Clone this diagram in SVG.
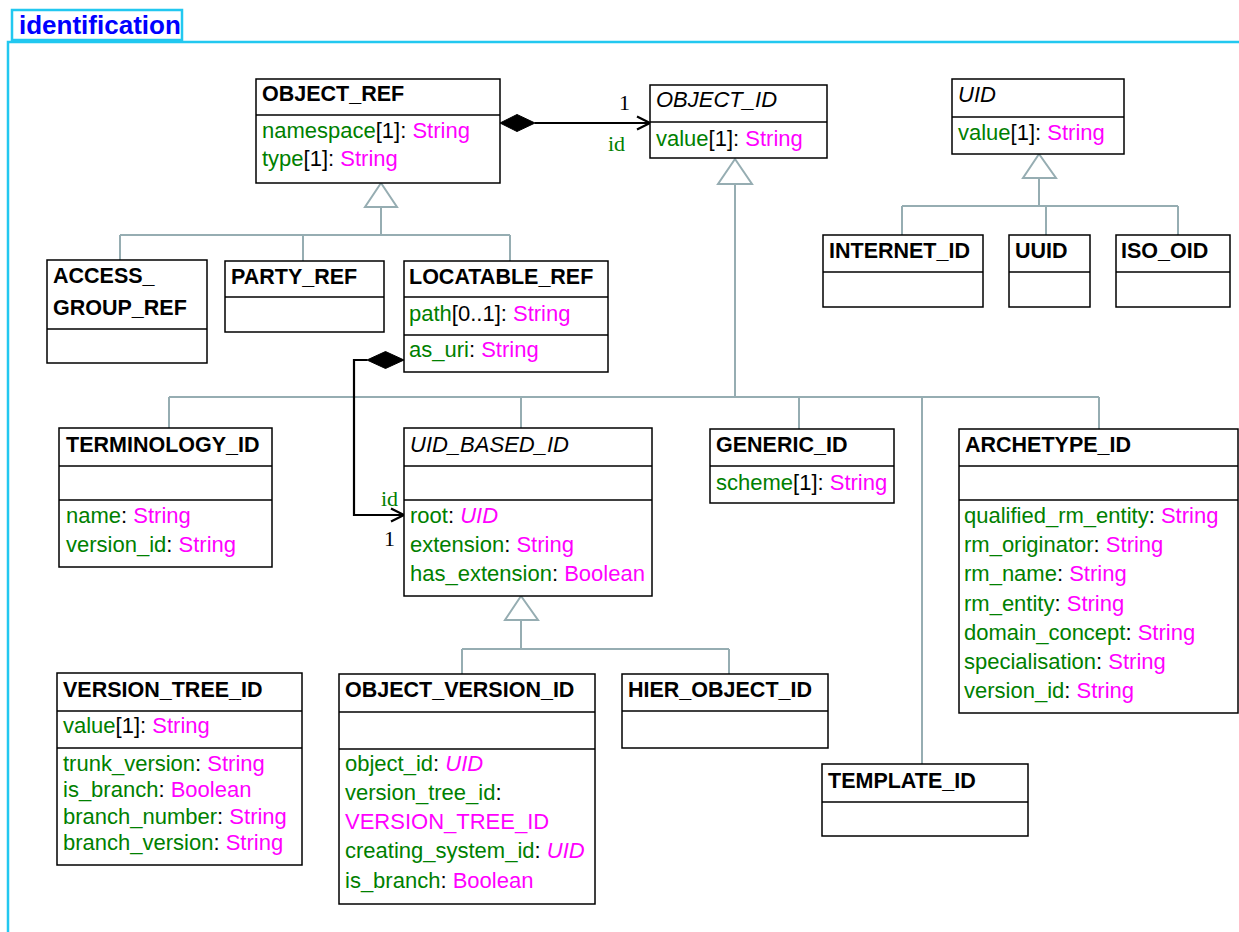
<svg xmlns="http://www.w3.org/2000/svg" width="1239" height="932" viewBox="0 0 1239 932">
<style>
.box{fill:#fff;stroke:#000;stroke-width:1.5}
.div{stroke:#000;stroke-width:1.5}
.t{font-family:"Liberation Sans",Arial,sans-serif;font-size:21.5px;font-weight:bold;fill:#000}
.ti{font-family:"Liberation Sans",Arial,sans-serif;font-size:22px;font-style:italic;fill:#000}
.a{font-family:"Liberation Sans",Arial,sans-serif;font-size:22px;fill:#008000}
.k{fill:#000}
.m{fill:#ff00ff}
.i{font-style:italic}
.gen{fill:none;stroke:#96adb2;stroke-width:2}
.tri{fill:#fff;stroke:#96adb2;stroke-width:2}
.asc{fill:none;stroke:#000;stroke-width:2.2}
.dia{fill:#000;stroke:#000;stroke-width:1}
.lbl{font-family:"Liberation Serif","Times New Roman",serif;font-size:22px;fill:#000}
.lblg{font-family:"Liberation Serif","Times New Roman",serif;font-size:22px;fill:#008000}
.frame{fill:none;stroke:#22c8f0;stroke-width:2.5}
</style>
<g id="package">
<rect class="frame" x="12" y="10" width="170" height="30"/>
<path class="frame" d="M1239,42 H8 V932"/>
<text x="19" y="34" style="font-family:'Liberation Sans',Arial,sans-serif;font-size:26px;font-weight:bold;fill:#0000ff">identification</text>
</g>
<g id="connectors">
<polygon class="tri" points="381,183 365,207 397,207"/>
<path class="gen" d="M381,207 V235 M120,235 H510 M120,235 V260 M303,235 V261 M510,235 V261"/>
<polygon class="tri" points="735,159 718,184 752,184"/>
<path class="gen" d="M735,184 V397 M169,397 H1099 M169,397 V428 M521,397 V428 M799,397 V429 M1099,397 V429 M922,396 V764"/>
<polygon class="tri" points="1039,154 1023,178 1056,178"/>
<path class="gen" d="M1039,178 V206 M902,206 H1178 M902,206 V235 M1046,206 V235 M1178,206 V235"/>
<polygon class="tri" points="521,596 505,620 538,620"/>
<path class="gen" d="M521,620 V649 M462,649 H729 M462,649 V674 M729,649 V674"/>
<polygon class="dia" points="500,123 517,114.5 535,123 517,131.5"/>
<path class="asc" d="M535,123 H649"/>
<path class="asc" d="M637,116.5 L650,123 L637,129.5" stroke-width="1.8"/>
<text class="lbl" x="619" y="110">1</text>
<text class="lblg" x="608" y="151">id</text>
<polygon class="dia" points="404,360 385.5,351.5 367,360 385.5,368.5"/>
<path class="asc" d="M367,360 H354 V515 H403"/>
<path class="asc" d="M391,508.5 L404,515 L391,521.5" stroke-width="1.8"/>
<text class="lblg" x="381" y="506">id</text>
<text class="lbl" x="384" y="546">1</text>
</g>
<g id="OBJECT_REF">
<rect class="box" x="256" y="79" width="244" height="104"/>
<line class="div" x1="256" y1="115" x2="500" y2="115"/>
<text class="t" x="262" y="101">OBJECT_REF</text>
<text class="a" x="262" y="138">namespace<tspan class="k">[1]: </tspan><tspan class="m">String</tspan></text>
<text class="a" x="262" y="166">type<tspan class="k">[1]: </tspan><tspan class="m">String</tspan></text>
</g>
<g id="OBJECT_ID">
<rect class="box" x="650" y="85" width="177" height="73"/>
<line class="div" x1="650" y1="122" x2="827" y2="122"/>
<text class="ti" x="656" y="107">OBJECT_ID</text>
<text class="a" x="656" y="146">value<tspan class="k">[1]: </tspan><tspan class="m">String</tspan></text>
</g>
<g id="UID">
<rect class="box" x="952" y="79" width="172" height="75"/>
<line class="div" x1="952" y1="117" x2="1124" y2="117"/>
<text class="ti" x="958" y="102">UID</text>
<text class="a" x="958" y="140">value<tspan class="k">[1]: </tspan><tspan class="m">String</tspan></text>
</g>
<g id="INTERNET_ID">
<rect class="box" x="823" y="235" width="160" height="72"/>
<line class="div" x1="823" y1="272" x2="983" y2="272"/>
<text class="t" x="829" y="258">INTERNET_ID</text>
</g>
<g id="UUID">
<rect class="box" x="1009" y="235" width="81" height="72"/>
<line class="div" x1="1009" y1="272" x2="1090" y2="272"/>
<text class="t" x="1015" y="258">UUID</text>
</g>
<g id="ISO_OID">
<rect class="box" x="1116" y="235" width="114" height="72"/>
<line class="div" x1="1116" y1="272" x2="1230" y2="272"/>
<text class="t" x="1121" y="258">ISO_OID</text>
</g>
<g id="ACCESS_GROUP_REF">
<rect class="box" x="47" y="260" width="160" height="103"/>
<line class="div" x1="47" y1="329" x2="207" y2="329"/>
<text class="t" x="53" y="283">ACCESS_</text>
<text class="t" x="53" y="315">GROUP_REF</text>
</g>
<g id="PARTY_REF">
<rect class="box" x="225" y="261" width="159" height="71"/>
<line class="div" x1="225" y1="297" x2="384" y2="297"/>
<text class="t" x="231" y="284">PARTY_REF</text>
</g>
<g id="LOCATABLE_REF">
<rect class="box" x="404" y="261" width="204" height="111"/>
<line class="div" x1="404" y1="297" x2="608" y2="297"/>
<line class="div" x1="404" y1="335" x2="608" y2="335"/>
<text class="t" x="409" y="284">LOCATABLE_REF</text>
<text class="a" x="409" y="321">path<tspan class="k">[0..1]: </tspan><tspan class="m">String</tspan></text>
<text class="a" x="409" y="357">as_uri<tspan class="k">: </tspan><tspan class="m">String</tspan></text>
</g>
<g id="TERMINOLOGY_ID">
<rect class="box" x="59" y="428" width="213" height="139"/>
<line class="div" x1="59" y1="466" x2="272" y2="466"/>
<line class="div" x1="59" y1="500" x2="272" y2="500"/>
<text class="t" x="66" y="452">TERMINOLOGY_ID</text>
<text class="a" x="66" y="523">name<tspan class="k">: </tspan><tspan class="m">String</tspan></text>
<text class="a" x="66" y="552">version_id<tspan class="k">: </tspan><tspan class="m">String</tspan></text>
</g>
<g id="UID_BASED_ID">
<rect class="box" x="404" y="428" width="248" height="168"/>
<line class="div" x1="404" y1="466" x2="652" y2="466"/>
<line class="div" x1="404" y1="500" x2="652" y2="500"/>
<text class="ti" x="410" y="452">UID_BASED_ID</text>
<text class="a" x="410" y="523">root<tspan class="k">: </tspan><tspan class="m i">UID</tspan></text>
<text class="a" x="410" y="552">extension<tspan class="k">: </tspan><tspan class="m">String</tspan></text>
<text class="a" x="410" y="581">has_extension<tspan class="k">: </tspan><tspan class="m">Boolean</tspan></text>
</g>
<g id="GENERIC_ID">
<rect class="box" x="710" y="429" width="184" height="74"/>
<line class="div" x1="710" y1="466" x2="894" y2="466"/>
<text class="t" x="716" y="452">GENERIC_ID</text>
<text class="a" x="716" y="490">scheme<tspan class="k">[1]: </tspan><tspan class="m">String</tspan></text>
</g>
<g id="ARCHETYPE_ID">
<rect class="box" x="959" y="429" width="279" height="284"/>
<line class="div" x1="959" y1="466" x2="1238" y2="466"/>
<line class="div" x1="959" y1="500" x2="1238" y2="500"/>
<text class="t" x="965" y="452">ARCHETYPE_ID</text>
<text class="a" x="964" y="523">qualified_rm_entity<tspan class="k">: </tspan><tspan class="m">String</tspan></text>
<text class="a" x="964" y="552">rm_originator<tspan class="k">: </tspan><tspan class="m">String</tspan></text>
<text class="a" x="964" y="581">rm_name<tspan class="k">: </tspan><tspan class="m">String</tspan></text>
<text class="a" x="964" y="611">rm_entity<tspan class="k">: </tspan><tspan class="m">String</tspan></text>
<text class="a" x="964" y="640">domain_concept<tspan class="k">: </tspan><tspan class="m">String</tspan></text>
<text class="a" x="964" y="669">specialisation<tspan class="k">: </tspan><tspan class="m">String</tspan></text>
<text class="a" x="964" y="698">version_id<tspan class="k">: </tspan><tspan class="m">String</tspan></text>
</g>
<g id="VERSION_TREE_ID">
<rect class="box" x="57" y="673" width="245" height="192"/>
<line class="div" x1="57" y1="711" x2="302" y2="711"/>
<line class="div" x1="57" y1="748" x2="302" y2="748"/>
<text class="t" x="63" y="697">VERSION_TREE_ID</text>
<text class="a" x="63" y="733">value<tspan class="k">[1]: </tspan><tspan class="m">String</tspan></text>
<text class="a" x="63" y="771">trunk_version<tspan class="k">: </tspan><tspan class="m">String</tspan></text>
<text class="a" x="63" y="797">is_branch<tspan class="k">: </tspan><tspan class="m">Boolean</tspan></text>
<text class="a" x="63" y="824">branch_number<tspan class="k">: </tspan><tspan class="m">String</tspan></text>
<text class="a" x="63" y="850">branch_version<tspan class="k">: </tspan><tspan class="m">String</tspan></text>
</g>
<g id="OBJECT_VERSION_ID">
<rect class="box" x="339" y="674" width="256" height="230"/>
<line class="div" x1="339" y1="712" x2="595" y2="712"/>
<line class="div" x1="339" y1="749" x2="595" y2="749"/>
<text class="t" x="345" y="697">OBJECT_VERSION_ID</text>
<text class="a" x="345" y="771">object_id<tspan class="k">: </tspan><tspan class="m i">UID</tspan></text>
<text class="a" x="345" y="800">version_tree_id<tspan class="k">:</tspan></text>
<text class="a" x="345" y="829"><tspan class="m">VERSION_TREE_ID</tspan></text>
<text class="a" x="345" y="858">creating_system_id<tspan class="k">: </tspan><tspan class="m i">UID</tspan></text>
<text class="a" x="345" y="888">is_branch<tspan class="k">: </tspan><tspan class="m">Boolean</tspan></text>
</g>
<g id="HIER_OBJECT_ID">
<rect class="box" x="622" y="674" width="206" height="74"/>
<line class="div" x1="622" y1="711" x2="828" y2="711"/>
<text class="t" x="628" y="697">HIER_OBJECT_ID</text>
</g>
<g id="TEMPLATE_ID">
<rect class="box" x="822" y="764" width="206" height="72"/>
<line class="div" x1="822" y1="802" x2="1028" y2="802"/>
<text class="t" x="828" y="788">TEMPLATE_ID</text>
</g>
</svg>
